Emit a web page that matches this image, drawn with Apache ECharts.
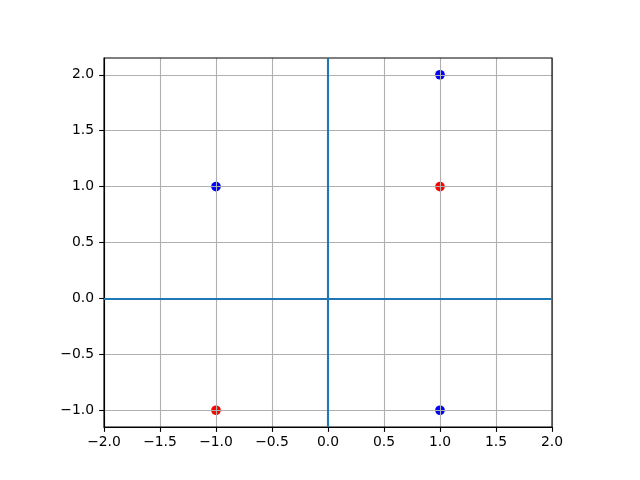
<!DOCTYPE html>
<html><head><meta charset="utf-8">
<script src="https://cdn.jsdelivr.net/npm/echarts@6/dist/echarts.min.js"></script>
<style>html,body{margin:0;padding:0;background:#fff}#c{width:640px;height:480px}</style>
</head><body><div id="c"></div>
<script>
const bluePoints = [[1, 2], [-1, 1], [1, -1]];
const redPoints = [[1, 1], [-1, -1]];
const xTicks = [-2, -1.5, -1, -0.5, 0, 0.5, 1, 1.5, 2];
const yTicks = [-1, -0.5, 0, 0.5, 1, 1.5, 2];
const xRange = [-2, 2];
const yRange = [-1.15, 2.15];

const fmt = v => (v < 0 ? '\u2212' : '') + Math.abs(v).toFixed(1);
const font = 'DejaVu Sans';
const chart = echarts.init(document.getElementById('c'), null, {renderer: 'canvas'});
chart.setOption({
  animation: false,
  grid: {left: 104, top: 58, width: 448, height: 369, show: true, borderColor: '#000', borderWidth: 1.1, backgroundColor: 'transparent', z: 5},
  xAxis: {
    type: 'value', min: xRange[0], max: xRange[1], interval: 0.5, z: 3,
    axisLine: {show: true, onZero: false, lineStyle: {color: '#000', width: 1.1}},
    axisTick: {show: true, length: 4.86, lineStyle: {color: '#000', width: 1.1}},
    axisLabel: {formatter: fmt, fontFamily: font, fontSize: 13.9, color: '#000', margin: 8},
    splitLine: {show: true, lineStyle: {color: '#b0b0b0', width: 1.1}}
  },
  yAxis: {
    type: 'value', min: yRange[0], max: yRange[1], z: 3,
    axisLine: {show: true, onZero: false, lineStyle: {color: '#000', width: 1.1}},
    axisTick: {show: true, length: 4.86, customValues: yTicks, lineStyle: {color: '#000', width: 1.1}},
    axisLabel: {customValues: yTicks, formatter: fmt, fontFamily: font, fontSize: 13.9, color: '#000', margin: 10},
    splitLine: {show: true, customValues: yTicks, lineStyle: {color: '#b0b0b0', width: 1.1}}
  },
  series: [
    {type: 'scatter', data: bluePoints, symbolSize: 9.7, z: 1, itemStyle: {color: '#0000ff', opacity: 1}},
    {type: 'scatter', data: redPoints, symbolSize: 9.7, z: 1, itemStyle: {color: '#ff0000', opacity: 1}},
    {type: 'line', data: [], z: 4,
      markLine: {silent: true, symbol: 'none', label: {show: false}, animation: false,
        lineStyle: {color: '#1f77b4', width: 2.08, type: 'solid'},
        data: [{xAxis: 0}, {yAxis: 0}]}}
  ]
});
</script></body></html>
